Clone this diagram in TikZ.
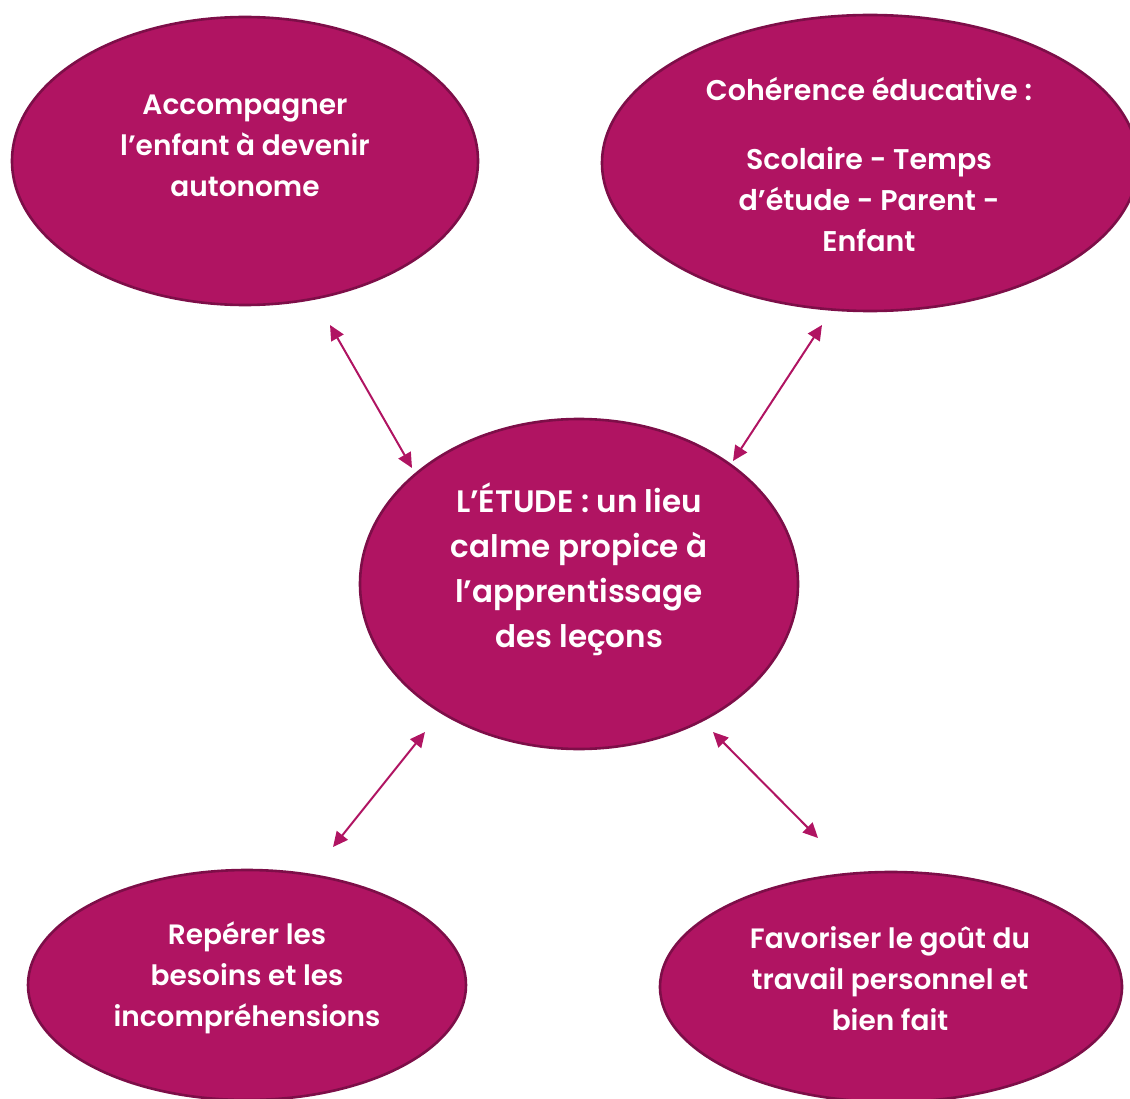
\documentclass[tikz,border=0pt]{standalone}
\usepackage{fontspec}
\setmainfont{Poppins}[UprightFont=* SemiBold]
\usetikzlibrary{shapes.geometric,arrows.meta}
\definecolor{plum}{HTML}{B01462}
\definecolor{plumdark}{HTML}{7D0E48}
\tikzset{
  bubble/.style={ellipse, draw=plumdark, line width=2.6pt, fill=plum, inner sep=0pt},
  label/.style={text=white, align=center, font=\fontsize{28}{41}\selectfont, inner sep=0pt},
  link/.style={draw=plum, line width=2pt, {Triangle[length=15pt,width=14pt]}-{Triangle[length=15pt,width=14pt]}}
}
\begin{document}
\begin{tikzpicture}[x=1pt,y=-1pt]
\useasboundingbox (0,0) rectangle (1130,1099);
\clip (0,0) rectangle (1130,1099);
\node[bubble, minimum width=466pt, minimum height=288pt] (tl) at (245,161) {};
\node[bubble, minimum width=536pt, minimum height=296pt] (tr) at (870,163) {};
\node[bubble, minimum width=438pt, minimum height=330pt] (c) at (579,584) {};
\node[bubble, minimum width=438pt, minimum height=230pt] (bl) at (247,985) {};
\node[bubble, minimum width=462pt, minimum height=230pt] (br) at (891,987) {};

\node[label] (tlt) at (245,146) {Accompagner\\l’enfant à devenir\\autonome};
\node[label, font=\fontsize{28.5}{41}\selectfont] (trt) at (869,165) {Cohérence éducative :\\[28pt]Scolaire - Temps\\d’étude - Parent -\\Enfant};
\node[label, font=\fontsize{31}{45}\selectfont] (ct) at (579,569) {L’ÉTUDE : un lieu\\calme propice à\\l’apprentissage\\des leçons};
\node[label] (blt) at (247,978) {Repérer les\\besoins et les\\incompréhensions};
\node[label] (brt) at (890,979) {Favoriser le goût du\\travail personnel et\\bien fait};

\coordinate (a1) at (330,325);
\coordinate (a2) at (412,468);
\coordinate (b1) at (822,325);
\coordinate (b2) at (733,461);
\coordinate (c1) at (425,732);
\coordinate (c2) at (333,847);
\coordinate (d1) at (713,732);
\coordinate (d2) at (818,838);
\draw[link] (a1) -- (a2);
\draw[link] (b1) -- (b2);
\draw[link] (c1) -- (c2);
\draw[link] (d1) -- (d2);
\end{tikzpicture}
\end{document}
